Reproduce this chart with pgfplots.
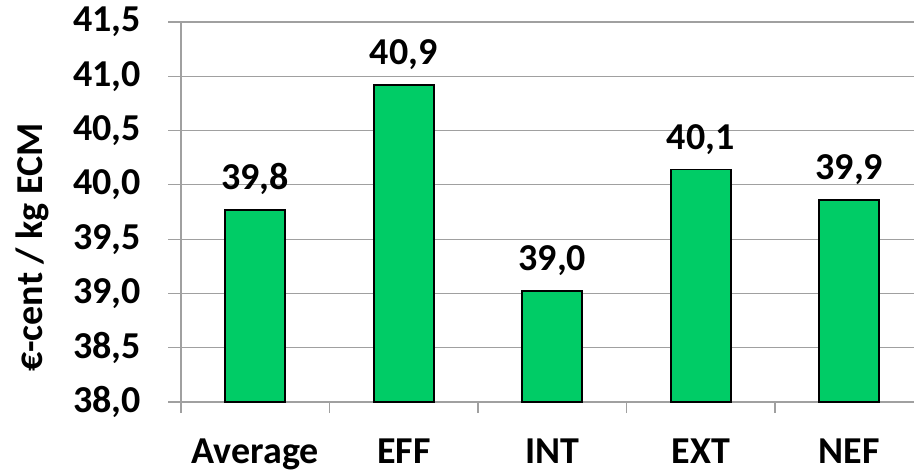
\documentclass[border=0pt]{standalone}
\usepackage{fontspec}
\setmainfont{Carlito}
\usepackage{pgfplots}
\pgfplotsset{compat=1.18}
\definecolor{bargreen}{RGB}{0,204,102}
\definecolor{gridgray}{RGB}{160,160,160}
\begin{document}
\begin{tikzpicture}
\useasboundingbox (0,0) rectangle (457pt,235.5pt);
\begin{axis}[
  at={(90.5pt,34.5pt)}, anchor=south west,
  scale only axis, width=366.5pt, height=190pt,
  xmin=-0.5, xmax=4.436, ymin=38, ymax=41.5,
  ytick={38,38.5,39,39.5,40,40.5,41,41.5},
  ymajorgrids, grid style={gridgray, line width=0.6pt},
  axis x line*=bottom, axis y line*=left,
  axis line style={gridgray, line width=0.6pt},
  every tick/.style={gridgray, line width=0.6pt},
  ytick align=outside, ytick pos=left,
  major tick length=6.5pt,
  xtick={0,1,2,3,4},
  xticklabels={Average,EFF,INT,EXT,NEF},
  x tick style={draw=none},
  extra x ticks={-0.5,0.5,1.5,2.5,3.5},
  extra x tick labels={},
  extra x tick style={xtick align=outside, major tick length=5.5pt, x tick style={draw=gridgray}},
  ticklabel style={font=\fontsize{19}{22}\selectfont\bfseries},
  /pgf/number format/assume math mode=true,
  yticklabel style={/pgf/number format/fixed, /pgf/number format/fixed zerofill, /pgf/number format/precision=1, /pgf/number format/use comma, xshift=-10pt},
  xticklabel style={yshift=-8.5pt},
  ylabel={€-cent / kg ECM},
  ylabel style={font=\fontsize{19}{22}\selectfont\bfseries, at={(axis description cs:0,0.5)}, anchor=center, yshift=74.5pt, xshift=-17.75pt},
  ybar, bar width=30pt,
  nodes near coords,
  nodes near coords style={font=\fontsize{19}{22}\selectfont\bfseries, /pgf/number format/fixed, /pgf/number format/fixed zerofill, /pgf/number format/precision=1, /pgf/number format/use comma, /pgf/number format/assume math mode=true, yshift=4pt},
]
\addplot[fill=bargreen, draw=black, line width=0.8pt] coordinates {(0,39.77) (1,40.92) (2,39.02) (3,40.14) (4,39.86)};
\end{axis}
\end{tikzpicture}
\end{document}
